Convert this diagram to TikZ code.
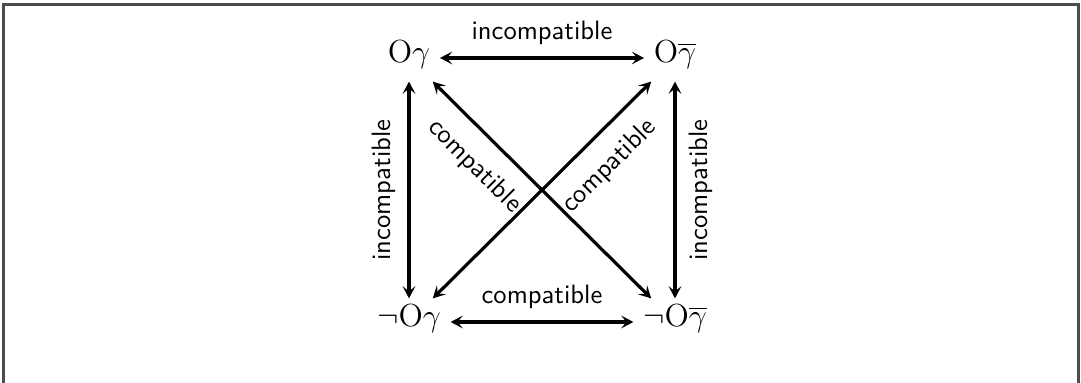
\documentclass[tikz,border=0pt]{standalone}
\usepackage{amsmath,amssymb}
\usetikzlibrary{arrows.meta}

\begin{document}
\begin{tikzpicture}[x=0.376pt,y=-0.376pt,
  prop/.style={inner sep=3.5pt,font=\large,text height=1.6ex,text depth=.8ex},
  rel/.style={{Stealth[length=4.6pt,width=4.8pt,inset=2pt]}-{Stealth[length=4.6pt,width=4.8pt,inset=2pt]},line width=1.2pt},
  lbl/.style={font=\sffamily,inner sep=4.5pt}]
\path[use as bounding box] (0,0) rectangle (1081,383);
\draw[line width=0.8pt,black!70] (3.5,390) -- (3.5,4.5) -- (1078.5,4.5) -- (1078.5,390);
% the four propositions
\node[prop] (og) at (409,58) {$\mathrm{O}\gamma$};
\node[prop] (ob) at (675,58) {$\mathrm{O}\overline{\gamma}$};
\node[prop] (ng) at (409,322) {$\neg\mathrm{O}\gamma$};
\node[prop] (nb) at (675,322) {$\neg\mathrm{O}\overline{\gamma}$};
% relations
\draw[rel] (og) -- node[lbl,above] {incompatible} (ob);
\draw[rel] (ng) -- node[lbl,above] {compatible} (nb);
\draw[rel] (ng) -- node[lbl,sloped,above] {incompatible} (og);
\draw[rel] (nb) -- node[lbl,sloped,below] {incompatible} (ob);
\draw[rel] (og) -- node[lbl,sloped,below,inner sep=6.5pt,pos=.29] {compatible} (nb);
\draw[rel] (ng) -- node[lbl,sloped,below,inner sep=6.5pt,pos=.71] {compatible} (ob);
\end{tikzpicture}
\end{document}
